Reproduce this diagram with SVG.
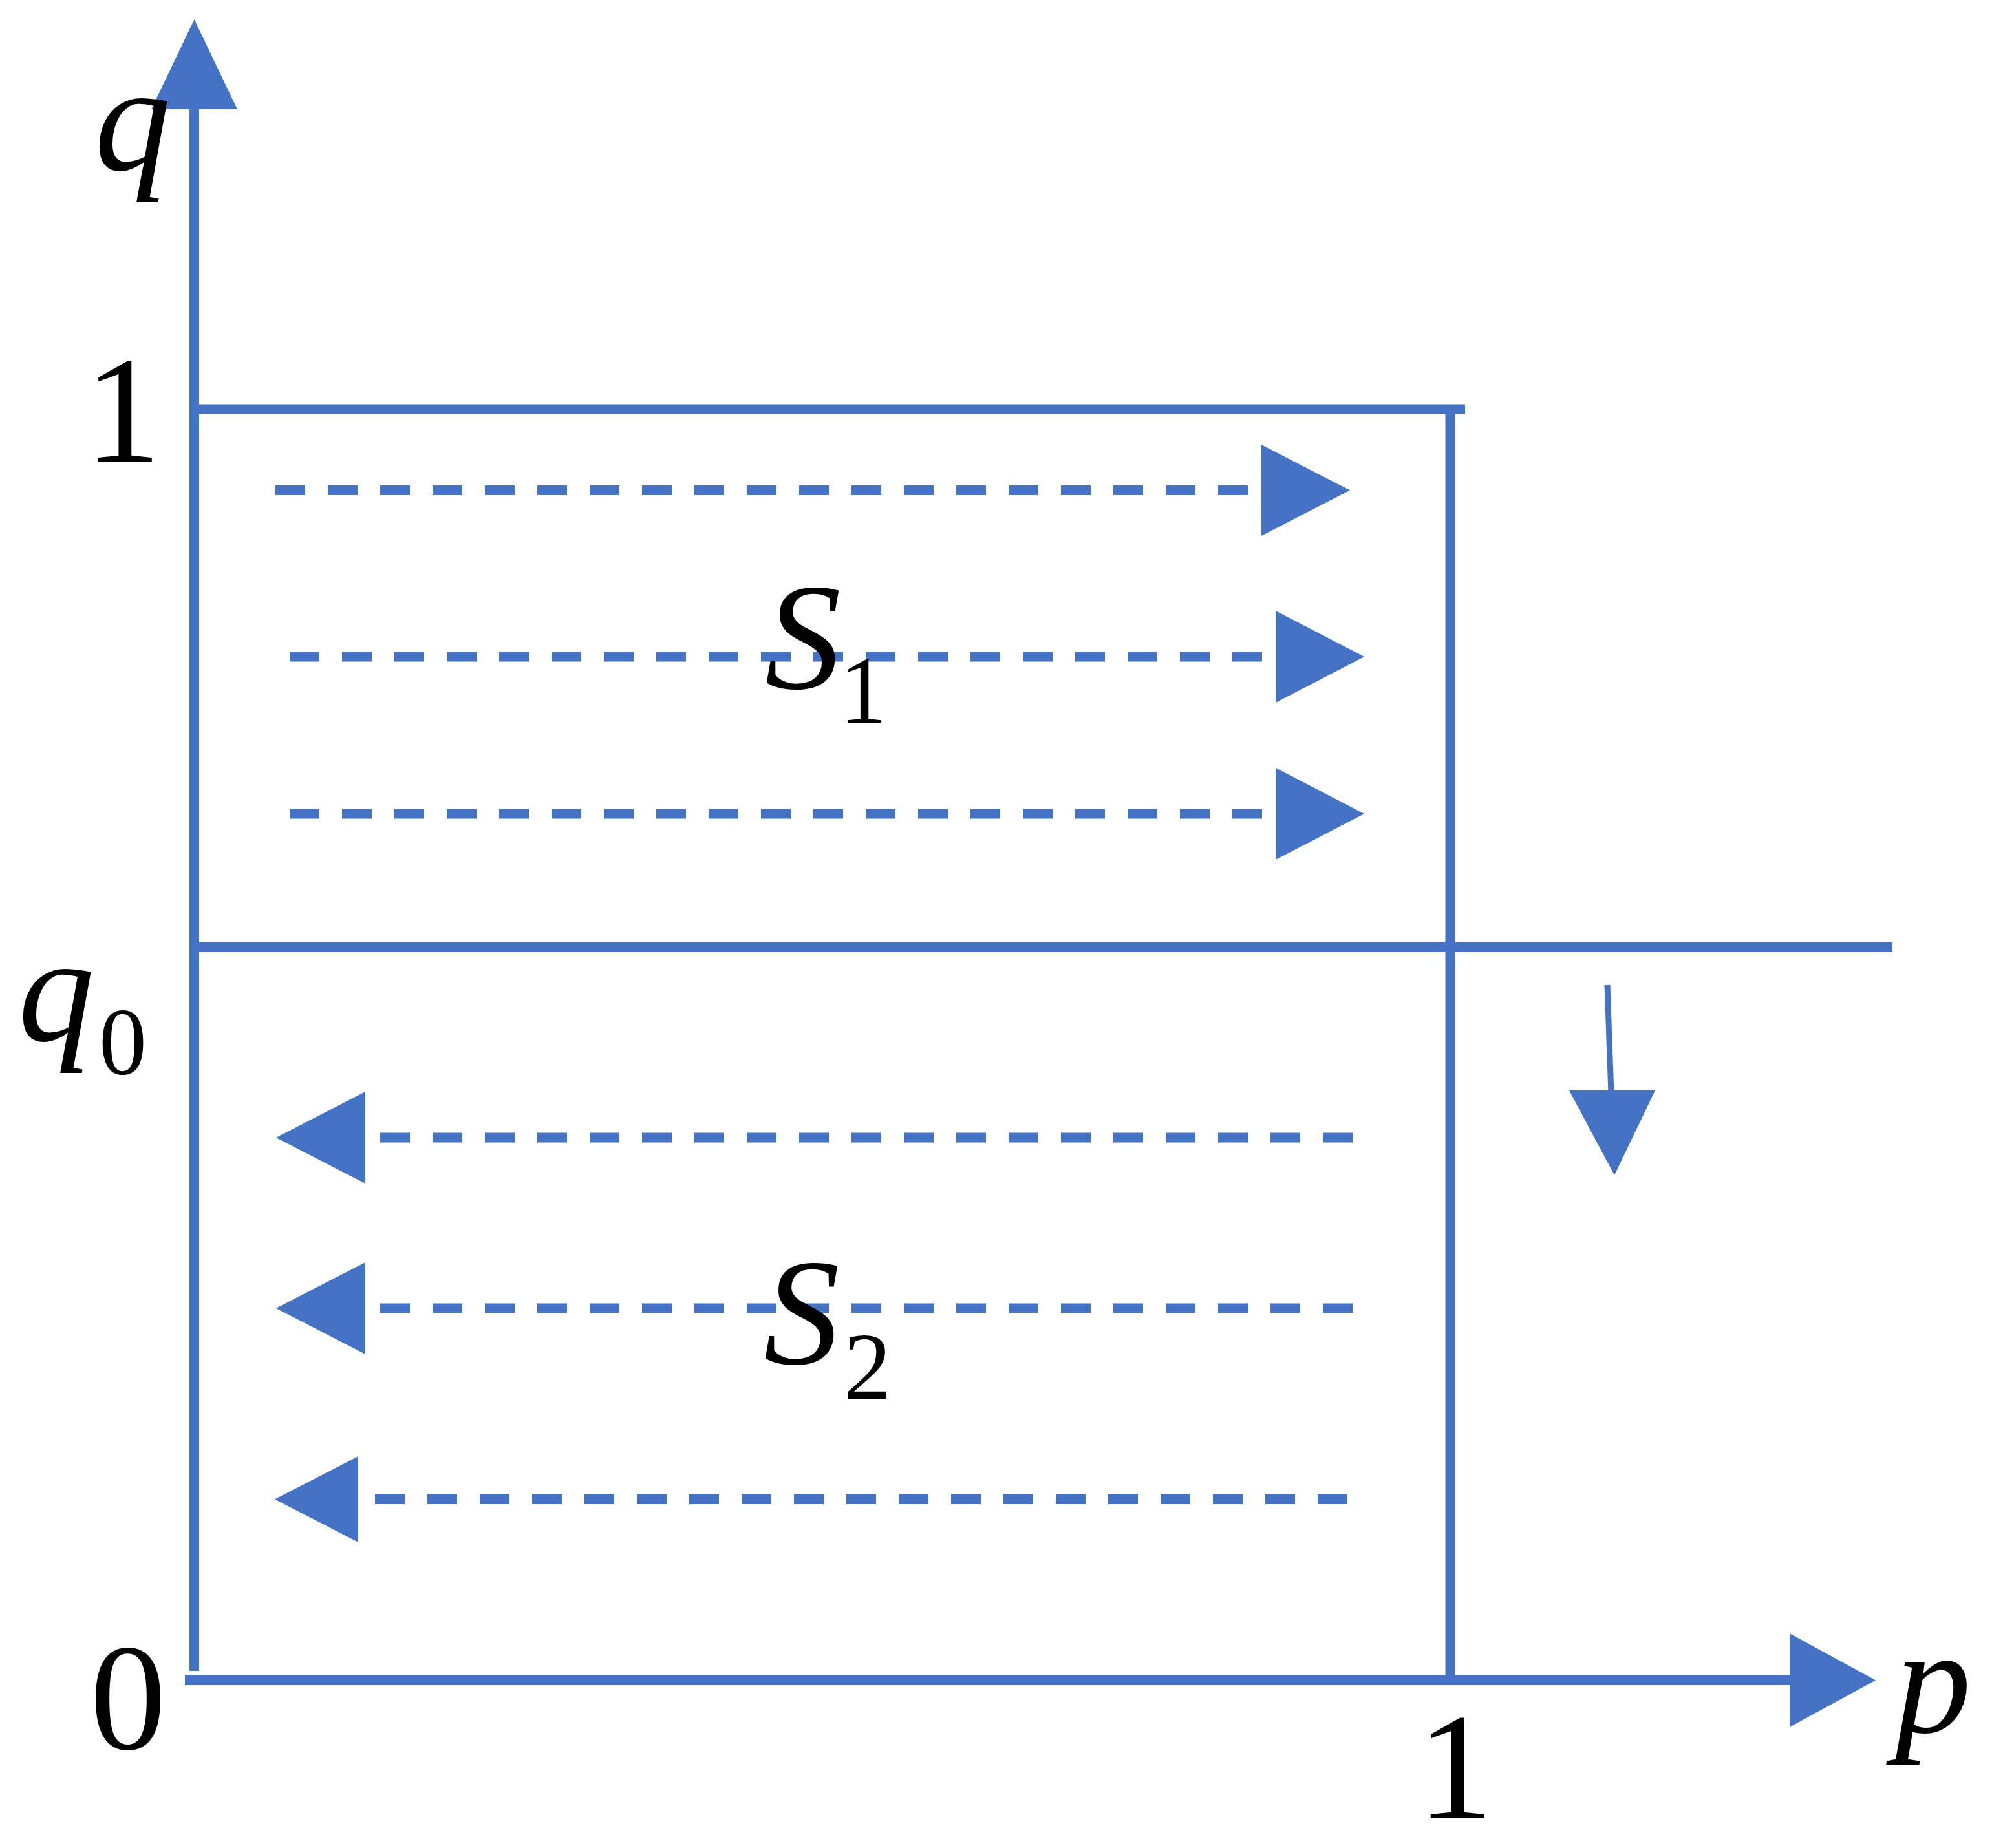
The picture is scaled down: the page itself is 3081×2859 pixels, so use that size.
<svg xmlns="http://www.w3.org/2000/svg" width="3081" height="2859" viewBox="0 0 3081 2859">
<style>
.ln{stroke:#4472C4;stroke-width:15;fill:none}
.dash{stroke:#4472C4;stroke-width:15;fill:none;stroke-dasharray:46 35}
.hd{fill:#4472C4;stroke:none}
.t{font-family:"Liberation Serif","Times New Roman",serif;font-size:236px;fill:#000;text-anchor:middle}
.it{font-style:italic}
.sub{font-size:148px}
</style>
<rect width="3081" height="2859" fill="#fff"/>
<g id="connectors">
<line class="ln" x1="300.5" y1="160" x2="300.5" y2="2585"/>
<polygon class="hd" points="300.5,30 234,169 367,169"/>
<line class="ln" x1="286" y1="2599.5" x2="2775" y2="2599.5"/>
<polygon class="hd" points="2768,2527 2768,2672 2901,2599.5"/>
<line class="ln" x1="293" y1="633" x2="2266" y2="633"/>
<line class="ln" x1="2243" y1="626" x2="2243" y2="2599"/>
<line class="ln" x1="293" y1="1465.5" x2="2927" y2="1465.5"/>
<line class="ln" style="stroke-width:9" x1="2486" y1="1524" x2="2492" y2="1692"/>
<polygon class="hd" points="2427,1687 2560,1687 2497,1818"/>
<g id="s1-arrows">
<line class="dash" x1="426" y1="758.5" x2="1930" y2="758.5"/>
<polygon class="hd" points="1951,688 1951,829 2088,758.5"/>
<line class="dash" x1="448" y1="1016" x2="1952" y2="1016"/>
<polygon class="hd" points="1973,945 1973,1087 2110,1016"/>
<line class="dash" x1="448" y1="1259" x2="1952" y2="1259"/>
<polygon class="hd" points="1973,1188 1973,1330 2110,1259"/>
</g>
<g id="s2-arrows">
<line class="dash" x1="588" y1="1760" x2="2092" y2="1760"/>
<polygon class="hd" points="427,1760 565,1689 565,1831"/>
<line class="dash" x1="588" y1="2024" x2="2092" y2="2024"/>
<polygon class="hd" points="427,2024 565,1953 565,2095"/>
<line class="dash" x1="580" y1="2319.5" x2="2084" y2="2319.5"/>
<polygon class="hd" points="425,2319.5 554,2253 554,2386"/>
</g>
</g>
<g id="label-q"><text class="t it" x="205" y="263">q</text></g>
<g id="label-1-top"><text class="t" x="190" y="714">1</text></g>
<g id="label-q0"><text class="t it" x="87" y="1610">q</text><text class="t sub" x="190" y="1662">0</text></g>
<g id="label-0"><text class="t" x="198" y="2706">0</text></g>
<g id="label-1-bottom"><text class="t" x="2251" y="2813">1</text></g>
<g id="label-p"><text class="t it" x="2990" y="2680">p</text></g>
<g id="label-S1"><text class="t it" x="1242" y="1065">S</text><text class="t sub" x="1335" y="1118">1</text></g>
<g id="label-S2"><text class="t it" x="1240" y="2110">S</text><text class="t sub" x="1342" y="2164">2</text></g>
</svg>
